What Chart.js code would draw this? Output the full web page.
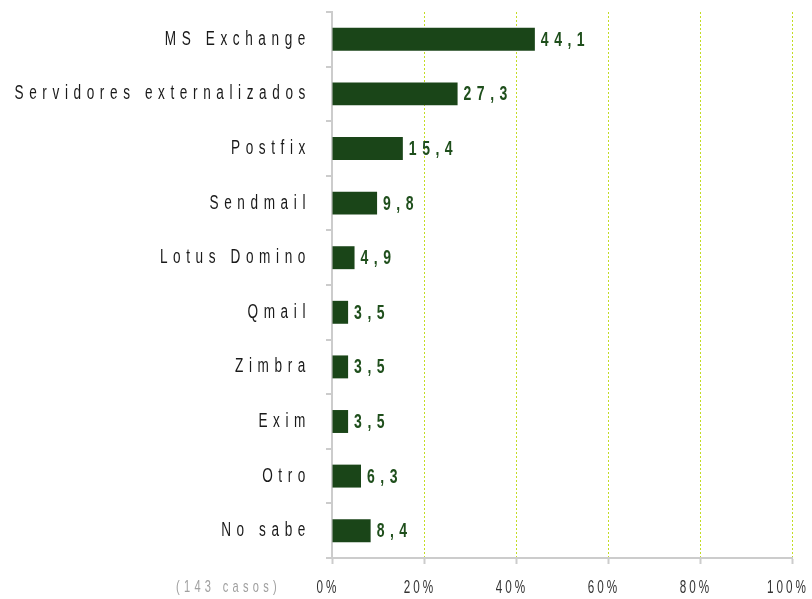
<!DOCTYPE html>
<html>
<head>
<meta charset="utf-8">
<script src="https://cdn.jsdelivr.net/npm/chart.js@4/dist/chart.umd.min.js"></script>
<style>
  html, body { margin: 0; padding: 0; background: #ffffff; }
  #wrap { position: relative; width: 812px; height: 599px; }
</style>
</head>
<body>
<div id="wrap"><canvas id="c"></canvas></div>
<script>
// ---- data ----
const categories = ["MS Exchange", "Servidores externalizados", "Postfix", "Sendmail", "Lotus Domino", "Qmail", "Zimbra", "Exim", "Otro", "No sabe"];
const values = [44.1, 27.3, 15.4, 9.8, 4.9, 3.5, 3.5, 3.5, 6.3, 8.4];
const xTicks = [0, 20, 40, 60, 80, 100];
const footnote = "(143 casos)";

const FONT = '"Liberation Sans", Arial, sans-serif';
// horizontal condensing factor and letter spacing (device px) per axis
const TEXT_STYLE = { x: { sx: 0.65, sp: 3 }, y: { sx: 0.68, sp: 5.6 } };

function condensedDraw(scale, area, superDraw) {
  const ctx = scale.ctx;
  const st = TEXT_STYLE[scale.id] || { sx: 1, sp: 0 };
  ctx.save();
  ctx.letterSpacing = (st.sp / st.sx) + 'px';
  ctx.rotate = function (a) {
    CanvasRenderingContext2D.prototype.rotate.call(this, a);
    CanvasRenderingContext2D.prototype.scale.call(this, st.sx, 1);
  };
  try { superDraw(area); } finally {
    delete ctx.rotate;
    ctx.restore();
  }
}

class SpacedCategory extends Chart.CategoryScale {
  static id = 'spacedCategory';
  static defaults = Chart.CategoryScale.defaults;
  drawLabels(area) { condensedDraw(this, area, (a) => super.drawLabels(a)); }
}
class SpacedLinear extends Chart.LinearScale {
  static id = 'spacedLinear';
  static defaults = Chart.LinearScale.defaults;
  drawLabels(area) { condensedDraw(this, area, (a) => super.drawLabels(a)); }
}
Chart.register(SpacedCategory, SpacedLinear);

function drawCondensed(ctx, text, x, y, sx, sp, align) {
  ctx.save();
  ctx.translate(x, y);
  ctx.scale(sx, 1);
  ctx.letterSpacing = (sp / sx) + 'px';
  ctx.textAlign = align;
  ctx.fillText(text, 0, 0);
  ctx.restore();
}

const valueLabels = {
  id: 'valueLabels',
  afterDatasetsDraw(chart) {
    const ctx = chart.ctx;
    const meta = chart.getDatasetMeta(0);
    ctx.save();
    ctx.font = 'bold 20px ' + FONT;
    ctx.fillStyle = '#1f4f1c';
    ctx.textBaseline = 'middle';
    meta.data.forEach((bar, i) => {
      drawCondensed(ctx, values[i].toFixed(1).replace('.', ','), bar.x + 6, bar.y + 1, 0.7, 5.5, 'left');
    });
    ctx.restore();
  },
  afterDraw(chart) {
    const ctx = chart.ctx;
    const xs = chart.scales.x;
    ctx.save();
    ctx.font = '17px ' + FONT;
    ctx.fillStyle = '#a0a0a0';
    ctx.textBaseline = 'middle';
    drawCondensed(ctx, footnote, xs.left - 51, 587, 0.65, 4.3, 'right');
    ctx.restore();
  }
};

new Chart(document.getElementById('c'), {
  type: 'bar',
  data: {
    labels: categories,
    datasets: [{
      data: values,
      backgroundColor: '#1a4518',
      borderWidth: 0,
      barPercentage: 0.42,
      categoryPercentage: 1.0
    }]
  },
  options: {
    indexAxis: 'y',
    responsive: true,
    maintainAspectRatio: false,
    animation: false,
    devicePixelRatio: 1,
    layout: { padding: { top: 12, right: 20, bottom: 0, left: 0 } },
    plugins: { legend: { display: false }, tooltip: { enabled: false } },
    scales: {
      x: {
        type: 'spacedLinear',
        min: 0, max: 100,
        afterBuildTicks: (s) => { s.ticks = xTicks.map(v => ({ value: v })); },
        ticks: {
          callback: (v) => v + '%',
          color: '#333333',
          font: { family: FONT, size: 18 },
          padding: 13,
          labelOffset: -4,
          maxRotation: 0
        },
        grid: {
          color: '#c3dc24',
          lineWidth: 1,
          drawTicks: true,
          tickLength: 6,
          tickColor: '#cccccc',
          tickWidth: 2
        },
        border: { display: true, color: '#cccccc', width: 2, dash: [2, 2] },
        afterFit: (s) => { s.height = 41; s.paddingLeft = 0; s.paddingRight = 0; }
      },
      y: {
        type: 'spacedCategory',
        offset: true,
        ticks: {
          color: '#1a1a1a',
          font: { family: FONT, size: 20 },
          padding: 15
        },
        grid: {
          offset: true,
          drawOnChartArea: false,
          drawTicks: true,
          tickLength: 6,
          color: '#cccccc',
          lineWidth: 2
        },
        border: { display: true, color: '#cccccc', width: 2 },
        afterFit: (s) => { s.width = 332; s.paddingTop = 0; s.paddingBottom = 0; }
      }
    }
  },
  plugins: [valueLabels]
});
</script>
</body>
</html>
